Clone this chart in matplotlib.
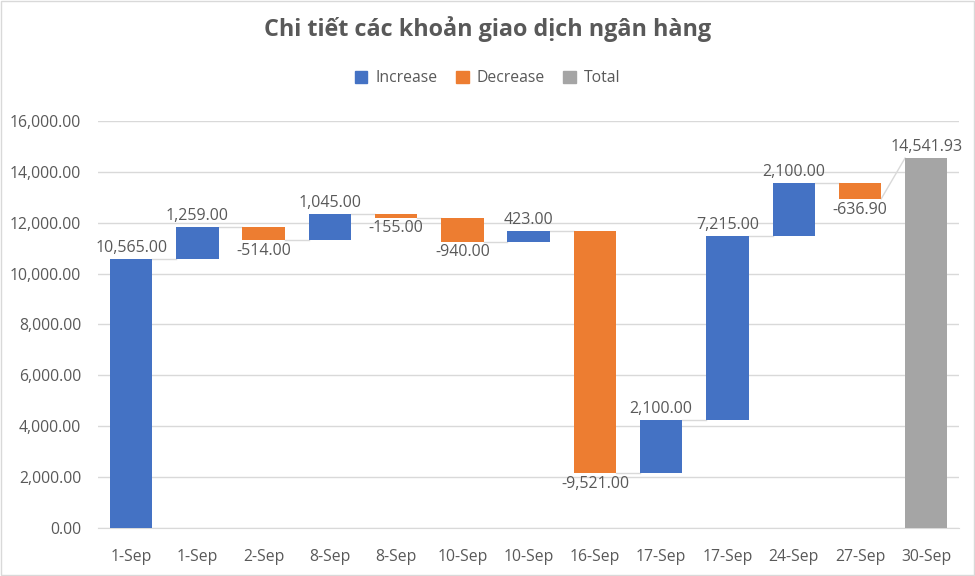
import numpy as np
import matplotlib.pyplot as plt
from matplotlib.patches import Patch

plt.rcParams['font.family'] = ['Open Sans', 'DejaVu Sans']

# Dữ liệu
categories = ['1-Sep', '1-Sep', '2-Sep', '8-Sep', '8-Sep', '10-Sep', '10-Sep',
              '16-Sep', '17-Sep', '17-Sep', '24-Sep', '27-Sep', '30-Sep']
changes = [10565.00, 1259.00, -514.00, 1045.00, -155.00, -940.00, 423.00,
           -9521.00, 2100.00, 7215.00, 2100.00, -636.90]
total_value = 14541.93

BLUE = '#4472C4'
ORANGE = '#ED7D31'
GRAY = '#A5A5A5'
TEXT = '#595959'

fig = plt.figure(figsize=(9.75, 5.76), dpi=100)
ax = fig.add_axes([0.1005, 0.0833, 0.8835, 0.7067])

x = np.arange(len(categories))
width = 0.64

# Tính đáy và đỉnh của từng cột
levels = np.concatenate([[0], np.cumsum(changes)])
bottoms, heights, colors = [], [], []
for i, c in enumerate(changes):
    start, end = levels[i], levels[i + 1]
    bottoms.append(min(start, end))
    heights.append(abs(c))
    colors.append(BLUE if c >= 0 else ORANGE)
bottoms.append(0)
heights.append(total_value)
colors.append(GRAY)

ax.bar(x, heights, width, bottom=bottoms, color=colors, zorder=3)

# Đường nối
for i in range(len(changes)):
    y0 = levels[i + 1]
    y1 = levels[i + 1] if i < len(changes) - 1 else total_value
    ax.plot([x[i] + width / 2, x[i + 1] - width / 2], [y0, y1],
            color='#D9D9D9', lw=1, zorder=2)

# Nhãn dữ liệu
for i, c in enumerate(changes):
    if c >= 0:
        ax.text(x[i], bottoms[i] + heights[i] + 110, f'{c:,.2f}',
                ha='center', va='bottom', fontsize=11.5, color=TEXT)
    else:
        ax.text(x[i], bottoms[i] - 110, f'{c:,.2f}',
                ha='center', va='top', fontsize=11.5, color=TEXT)
ax.text(x[-1], total_value + 110, f'{total_value:,.2f}',
        ha='center', va='bottom', fontsize=11.5, color=TEXT)

ax.set_xlim(-0.5, len(categories) - 0.5)
ax.set_ylim(0, 16000)
ax.set_yticks(np.arange(0, 16001, 2000))
ax.set_yticklabels([f'{v:,.2f}' for v in np.arange(0, 16001, 2000)])
ax.set_xticks(x)
ax.set_xticklabels(categories)
ax.tick_params(axis='both', length=0, labelsize=11.3, colors=TEXT)
ax.tick_params(axis='x', pad=15)
ax.tick_params(axis='y', pad=12)
ax.grid(axis='y', color='#D9D9D9', lw=1, zorder=0)
for side in ['top', 'right', 'left']:
    ax.spines[side].set_visible(False)
ax.spines['bottom'].set_color('#D9D9D9')

fig.text(0.5, 0.95, 'Chi tiết các khoản giao dịch ngân hàng', ha='center',
         va='center', fontsize=16.8, fontweight='bold', color=TEXT)

handles = [Patch(color=BLUE, label='Increase'),
           Patch(color=ORANGE, label='Decrease'),
           Patch(color=GRAY, label='Total')]
fig.legend(handles=handles, loc='center', bbox_to_anchor=(0.5, 0.864), ncol=3,
           frameon=False, fontsize=11.3, labelcolor=TEXT, handlelength=0.8,
           handleheight=0.8, columnspacing=1.2, handletextpad=0.5)

fig.patches.append(plt.Rectangle((0.001, 0.001), 0.998, 0.998, transform=fig.transFigure,
                                 fill=False, edgecolor='#D9D9D9', lw=1))

fig.savefig('out.png', dpi=100)
